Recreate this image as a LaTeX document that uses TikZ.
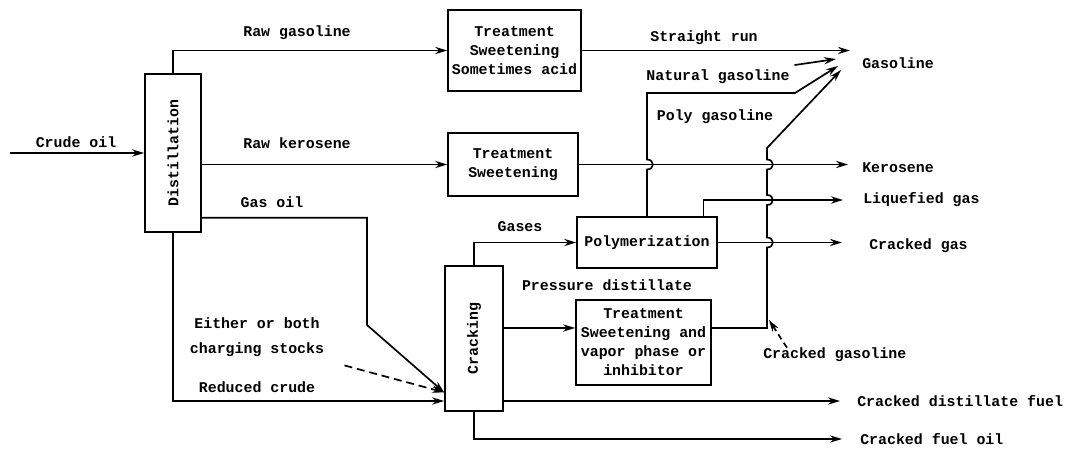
\documentclass[tikz,border=0pt]{standalone}
\usepackage{fontspec}
\setmonofont{Liberation Mono}
\usepackage{graphicx}
\usetikzlibrary{arrows.meta}

\newcommand{\flowfont}{\ttfamily\bfseries\fontsize{10.6}{13.5}\selectfont}

\tikzset{
  unit/.style={draw, line width=1.2pt, inner sep=0pt, align=center},
  flow/.style={line width=1.2pt, -{Stealth[length=3mm,width=1.8mm]}},
  hop/.style={out=0, in=0, looseness=2},
  outlbl/.style={anchor=west, inner sep=0pt},
}

\begin{document}
\begin{tikzpicture}[x=0.25mm, y=-0.25mm, font=\flowfont]
  \useasboundingbox (0,0) rectangle (1079,452);

  % process units
  \node[unit, minimum width=14mm, minimum height=39.5mm] (dist) at (173,153) {\rotatebox{90}{Distillation}};
  \node[unit, minimum width=14.5mm, minimum height=36.25mm] (crack) at (474,338.5) {\rotatebox{90}{Cracking}};
  \node[unit, minimum width=33.25mm, minimum height=20.25mm] (tra) at (514.5,50.5) {Treatment\\Sweetening\\Sometimes acid};
  \node[unit, minimum width=32.5mm, minimum height=15.75mm] (trb) at (513,164.5) {Treatment\\Sweetening};
  \node[unit, minimum width=35mm, minimum height=12.75mm] (poly) at (647,242.5) {Polymerization};
  \node[unit, minimum width=33.75mm, minimum height=21.25mm] (trc) at (643.5,342.5) {Treatment\\Sweetening and\\vapor phase or\\inhibitor};

  % products
  \node[outlbl] (gasl) at (862,63) {Gasoline};
  \node[outlbl] (kerl) at (862,168) {Kerosene};
  \node[outlbl] (lgl) at (863,200) {Liquefied gas};
  \node[outlbl] (cgl) at (869,246) {Cracked gas};
  \node[outlbl] (cdl) at (857,401) {Cracked distillate fuel};
  \node[outlbl] (cfl) at (860,439) {Cracked fuel oil};
  \node[outlbl] (cgsl) at (763,355) {Cracked gasoline};

  % stream labels
  \node (crudel) at (76,142) {Crude oil};
  \node (rgl) at (297,33) {Raw gasoline};
  \node (rkl) at (297,143) {Raw kerosene};
  \node (gol) at (272,202) {Gas oil};
  \node[align=center] (eith) at (257,337) {Either or both\\[4pt]charging stocks};
  \node (rcl) at (257,387) {Reduced crude};
  \node (gasesl) at (520,227) {Gases};
  \node (pdl) at (607,285) {Pressure distillate};
  \node (srl) at (704,38) {Straight run};
  \node (natl) at (718,77) {Natural gasoline};
  \node (pgl) at (715,117) {Poly gasoline};

  \coordinate (feed) at (10,153);
  \coordinate (gsr) at (850,50.5);
  \coordinate (gnat) at (836,59);
  \coordinate (gpol) at (838,66);
  \coordinate (gcrk) at (841,70);
  \coordinate (cgpt) at (769,320);

  % distillation
  \draw[flow] (feed) -- (dist.west);
  \draw[flow] (dist.north) |- (tra.west);
  \draw[flow] (dist.east |- trb.west) -- (trb.west);
  \draw[flow] (dist.-66) -| (367,325) -- (crack.241);
  \draw[flow] (dist.south) |- (cdl.west -| crack.west);
  \draw[flow, dash pattern=on 2mm off 1.2mm, shorten <=4mm] (eith.south east) -- (crack.241);

  % cracking
  \draw[flow] (crack.north) |- (poly.west);
  \draw[flow] (crack.east |- trc.168) -- (trc.168);
  \draw[flow, shorten >=4.25mm] (crack.east |- cdl.west) -- (cdl.west);
  \draw[flow, shorten >=4.5mm] (crack.south) |- (cfl.west);

  % treating and polymerization
  \draw[flow] (tra.east) -- (gsr);
  \draw[flow, shorten >=3.5mm] (trb.east) -- (trb.east -| kerl.west);
  \draw[flow, shorten >=6.75mm] (poly.east) -- (poly.east -| cgl.west);
  \draw[flow, shorten >=5mm] (poly.25) |- (lgl.west);
  \draw[flow] (poly.north) -- (647,169.5) to[hop] (647,159.5) -- (647,93) -- (795,93) -- (gpol);
  \draw[flow] (trc.12) -| (767,247.5) to[hop] (767,237.5) -- (767,205) to[hop] (767,195)
    -- (767,169.5) to[hop] (767,159.5) -- (767,148) -- (gcrk);
  \draw[flow] (natl.north east) -- (gnat);
  \draw[flow, dash pattern=on 1.5mm off 1mm] ([xshift=6mm]cgsl.north west) -- (cgpt);
\end{tikzpicture}
\end{document}
